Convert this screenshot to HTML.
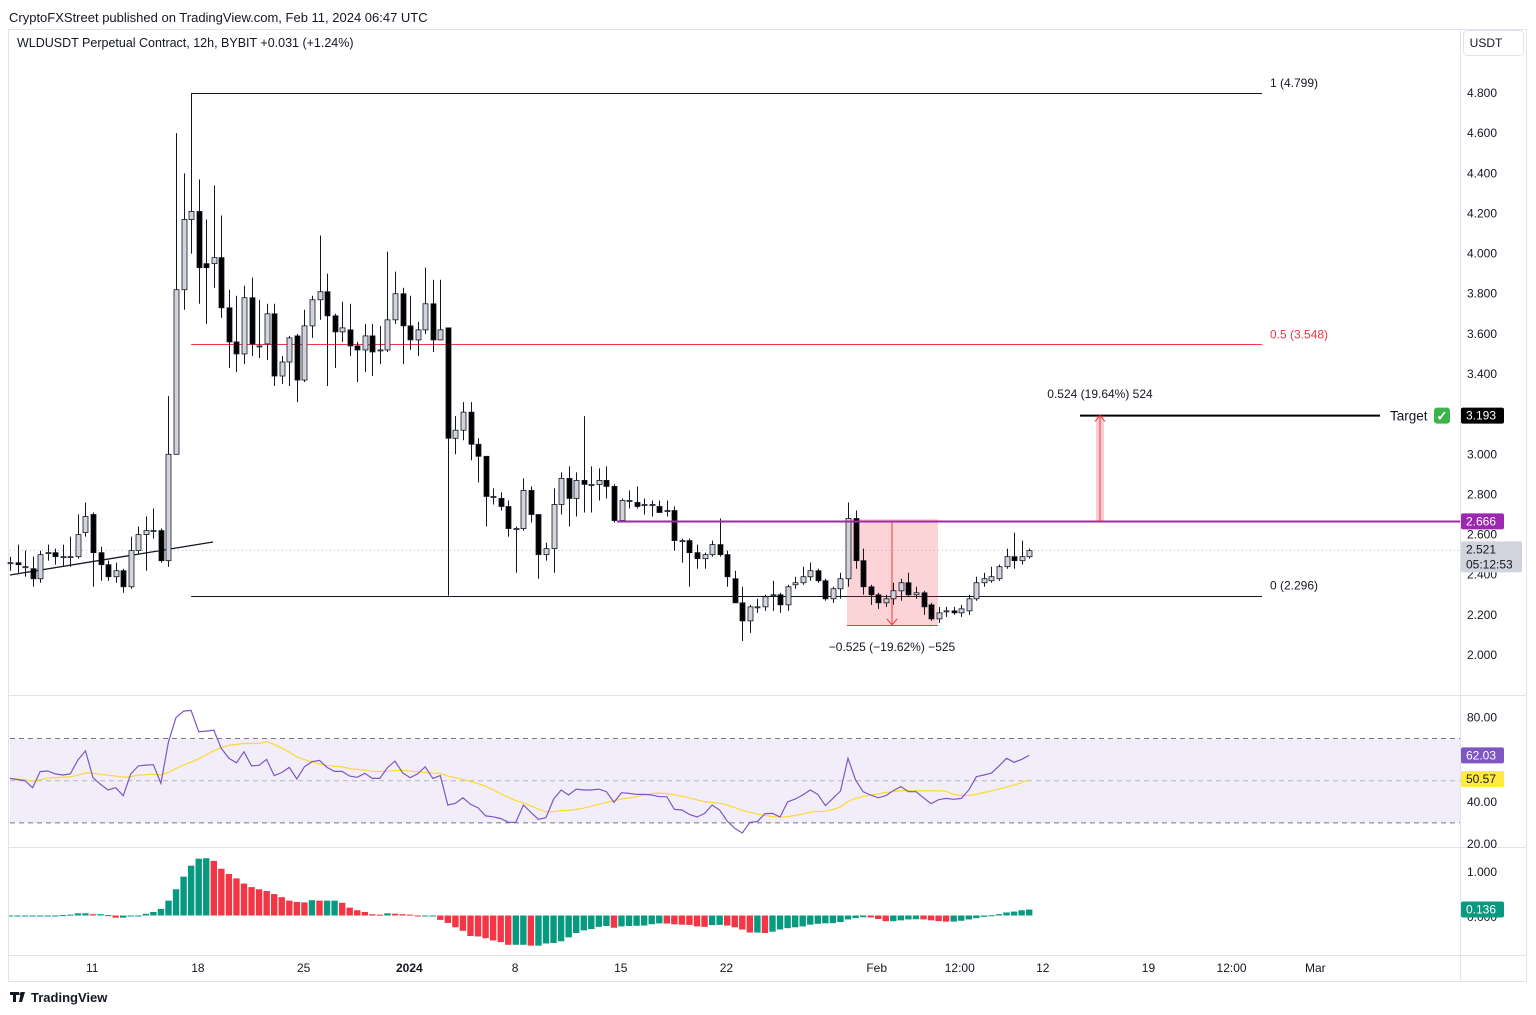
<!DOCTYPE html>
<html><head><meta charset="utf-8"><style>
html,body{margin:0;padding:0;background:#fff;}
svg{display:block;font-family:"Liberation Sans",sans-serif;}
</style></head><body>
<svg id="chart" width="1536" height="1015" viewBox="0 0 1536 1015" xmlns="http://www.w3.org/2000/svg">
<defs><clipPath id="paneClip"><rect x="9" y="30" width="1451" height="925"/></clipPath></defs>
<rect x="0" y="0" width="1536" height="1015" fill="#fff"/>
<text x="9" y="22" font-size="13" fill="#131722">CryptoFXStreet published on TradingView.com, Feb 11, 2024 06:47 UTC</text>
<rect x="8.5" y="29.5" width="1518" height="952" fill="none" stroke="#e0e3eb"/>
<line x1="1460.5" y1="30" x2="1460.5" y2="981" stroke="#e0e3eb"/>
<line x1="9" y1="695.5" x2="1526" y2="695.5" stroke="#e0e3eb"/>
<line x1="9" y1="847.5" x2="1526" y2="847.5" stroke="#e0e3eb"/>
<line x1="9" y1="955.5" x2="1526" y2="955.5" stroke="#e0e3eb"/>
<text x="17" y="47" font-size="12.5" fill="#131722">WLDUSDT Perpetual Contract, 12h, BYBIT  <tspan fill="#131722">+0.031 (+1.24%)</tspan></text>
<rect x="1463.5" y="30.5" width="60" height="25" rx="4" fill="#fff" stroke="#e0e3eb"/>
<text x="1486" y="47" font-size="12" fill="#131722" text-anchor="middle">USDT</text>
<g id="g-axis"></g>
<g id="g-rsi-bg"></g>
<g id="g-draw-back"></g>
<g id="g-candles"></g>
<g id="g-draw-front"></g>
<g id="g-rsi" clip-path="url(#paneClip)"></g>
<g id="g-macd" clip-path="url(#paneClip)"></g>
<g id="g-labels"></g>
<g>
<path d="M10 992h9v3h-3v7h-3v-7h-3z M21 992h4l-3 10h-3z" fill="#131722"/>
<circle cx="21" cy="994" r="1.6" fill="#131722"/>
<text x="31" y="1002" font-size="13" font-weight="bold" fill="#131722">TradingView</text>
</g>
</svg>
<script>
const opens=[2.46,2.46,2.44,2.43,2.38,2.51,2.51,2.49,2.49,2.49,2.61,2.70,2.51,2.45,2.39,2.42,2.34,2.52,2.60,2.62,2.62,2.47,3.00,3.82,4.17,4.21,3.95,3.95,3.98,3.73,3.56,3.50,3.78,3.54,3.55,3.70,3.39,3.46,3.59,3.37,3.64,3.77,3.81,3.69,3.61,3.62,3.54,3.52,3.59,3.52,3.52,3.67,3.80,3.64,3.57,3.62,3.75,3.57,3.63,3.08,3.12,3.21,3.05,2.99,2.79,2.78,2.74,2.63,2.63,2.82,2.70,2.50,2.53,2.75,2.88,2.78,2.87,2.85,2.85,2.87,2.84,2.67,2.77,2.76,2.75,2.75,2.74,2.72,2.72,2.57,2.57,2.51,2.48,2.50,2.55,2.50,2.38,2.26,2.17,2.24,2.24,2.30,2.30,2.25,2.35,2.36,2.39,2.42,2.37,2.28,2.33,2.38,2.68,2.47,2.34,2.30,2.26,2.28,2.32,2.36,2.30,2.31,2.25,2.18,2.22,2.22,2.21,2.22,2.28,2.36,2.37,2.38,2.44,2.49,2.47,2.49];
const highs=[2.49,2.55,2.52,2.49,2.52,2.55,2.53,2.55,2.59,2.70,2.76,2.71,2.54,2.47,2.46,2.43,2.59,2.64,2.69,2.73,2.63,3.29,4.60,4.40,4.799,4.37,4.17,4.34,4.19,3.82,3.79,3.84,3.88,3.77,3.75,3.75,3.49,3.59,3.60,3.72,3.79,4.09,3.90,3.70,3.76,3.75,3.56,3.65,3.65,3.64,4.01,3.91,3.83,3.79,3.66,3.93,3.87,3.87,3.63,3.19,3.26,3.26,3.08,2.99,2.83,2.81,2.77,2.64,2.88,2.84,2.70,2.56,2.83,2.91,2.94,2.91,3.19,2.94,2.93,2.94,2.85,2.78,2.82,2.84,2.78,2.77,2.77,2.77,2.74,2.58,2.58,2.55,2.51,2.57,2.68,2.52,2.42,2.34,2.25,2.28,2.30,2.37,2.31,2.35,2.39,2.44,2.46,2.43,2.38,2.34,2.41,2.76,2.72,2.53,2.35,2.31,2.30,2.36,2.38,2.41,2.34,2.32,2.26,2.24,2.24,2.24,2.25,2.30,2.39,2.41,2.44,2.45,2.53,2.61,2.57,2.53];
const lows=[2.42,2.41,2.39,2.34,2.36,2.47,2.45,2.44,2.44,2.48,2.59,2.34,2.37,2.37,2.36,2.31,2.33,2.50,2.42,2.58,2.46,2.44,3.00,3.72,4.00,3.75,3.65,3.83,3.68,3.43,3.41,3.45,3.49,3.48,3.47,3.34,3.35,3.34,3.26,3.36,3.58,3.67,3.34,3.43,3.56,3.49,3.36,3.41,3.39,3.45,3.51,3.65,3.45,3.52,3.49,3.60,3.51,3.57,2.296,3.00,3.07,2.97,2.86,2.64,2.75,2.72,2.59,2.41,2.62,2.66,2.38,2.47,2.41,2.70,2.64,2.69,2.71,2.71,2.77,2.78,2.66,2.66,2.73,2.73,2.70,2.69,2.71,2.69,2.52,2.46,2.34,2.43,2.43,2.49,2.49,2.34,2.26,2.07,2.11,2.21,2.22,2.22,2.21,2.22,2.33,2.35,2.37,2.36,2.27,2.26,2.28,2.34,2.43,2.30,2.25,2.23,2.24,2.25,2.27,2.29,2.28,2.20,2.17,2.16,2.19,2.20,2.19,2.20,2.27,2.34,2.36,2.37,2.43,2.43,2.45,2.48];
const closes=[2.46,2.45,2.44,2.38,2.50,2.51,2.49,2.49,2.49,2.60,2.69,2.51,2.45,2.39,2.42,2.34,2.52,2.60,2.62,2.62,2.47,3.00,3.82,4.17,4.21,3.93,3.93,3.98,3.73,3.56,3.50,3.78,3.55,3.54,3.70,3.39,3.46,3.58,3.37,3.64,3.77,3.81,3.69,3.61,3.63,3.54,3.52,3.59,3.51,3.52,3.67,3.80,3.64,3.57,3.62,3.75,3.57,3.62,3.08,3.12,3.21,3.05,2.99,2.79,2.79,2.74,2.63,2.63,2.82,2.70,2.50,2.53,2.75,2.88,2.78,2.87,2.85,2.85,2.87,2.84,2.67,2.77,2.77,2.74,2.75,2.75,2.71,2.72,2.57,2.57,2.51,2.48,2.50,2.55,2.50,2.39,2.26,2.17,2.24,2.24,2.29,2.30,2.25,2.34,2.36,2.39,2.42,2.37,2.28,2.33,2.38,2.68,2.47,2.34,2.30,2.26,2.28,2.32,2.36,2.30,2.31,2.24,2.18,2.21,2.22,2.21,2.23,2.28,2.36,2.38,2.39,2.44,2.49,2.47,2.49,2.52];
const rsiValues=[51.1,50.5,50,46.7,54.3,54.6,53.2,52.7,53.2,59.8,64.1,51.4,48.3,45.6,46.7,42.9,53.2,57,57.4,57.6,48.7,68.5,79.9,83,83.3,73.2,73.5,74,65.3,60.6,58.5,63.7,57,57.3,60.1,52.4,53.9,56.3,50.8,56.6,59,59.6,56.3,54.4,54.4,52.2,51.6,53.5,51.1,51.1,56.2,59.3,53.8,51.4,53.2,56.6,51.1,52.4,38.5,39.3,41.9,38.8,37.2,33.3,32.9,32.1,30.3,30.3,38.5,35,31.7,32.5,41.3,45.6,43.2,46,45.6,45.6,46,44.8,39.7,44.3,44,43.5,43.5,43.2,42.4,42.4,36.4,36.1,34,32.8,34.5,38.5,36.1,30.9,27.4,25.2,30.3,30.6,34.4,34.5,32.8,40,41.3,43.2,45.6,43.5,38.2,41.6,45.1,60.6,50.3,44.8,43.2,41.9,42.9,45.3,47.2,44.8,44.8,41.9,39.1,41,41.6,41.2,41.6,45.6,51.9,52.7,53.6,57,60.6,58.7,60.1,62.0];
const macdHist=[-0.01,-0.01,-0.01,-0.01,-0.01,-0.01,-0.01,0.01,0.02,0.05,0.05,0.03,0.03,0.01,-0.05,-0.05,-0.02,0.0,0.04,0.08,0.15,0.34,0.60,0.89,1.14,1.30,1.31,1.25,1.07,0.95,0.85,0.73,0.65,0.60,0.56,0.49,0.42,0.34,0.31,0.30,0.35,0.34,0.34,0.34,0.29,0.18,0.12,0.08,0.03,0.02,0.05,0.04,0.03,0.02,-0.02,-0.02,-0.01,-0.10,-0.17,-0.27,-0.35,-0.47,-0.48,-0.52,-0.57,-0.61,-0.67,-0.67,-0.67,-0.69,-0.69,-0.64,-0.63,-0.59,-0.50,-0.40,-0.34,-0.31,-0.26,-0.24,-0.28,-0.25,-0.24,-0.235,-0.23,-0.20,-0.18,-0.185,-0.20,-0.21,-0.215,-0.25,-0.26,-0.22,-0.215,-0.23,-0.27,-0.32,-0.39,-0.39,-0.40,-0.37,-0.32,-0.29,-0.27,-0.25,-0.21,-0.19,-0.18,-0.175,-0.15,-0.09,-0.06,-0.04,-0.045,-0.08,-0.13,-0.13,-0.11,-0.09,-0.085,-0.09,-0.11,-0.13,-0.14,-0.14,-0.12,-0.09,-0.06,-0.03,0.005,0.03,0.07,0.09,0.12,0.136];
const priceTicks=[2.0,2.2,2.4,2.6,2.8,3.0,3.2,3.4,3.6,3.8,4.0,4.2,4.4,4.6,4.8];
const rsiTicks=[80,40,20];
const timeLabels=["11","18","25","2024","8","15","22","Feb","12:00","12","19","12:00","Mar"];
const timeIdx=[10.9,24.9,38.9,52.9,66.9,80.9,94.9,114.8,125.8,136.8,150.8,161.8,172.9];
const fibLevels=[1,0.5,0];
const fibHigh=4.799, fibLow=2.296;
const resistance=2.666, target=3.193, lastPrice=2.521;

const NS="http://www.w3.org/2000/svg";
const xOf=k=>9.95+7.55*k;
const yP=p=>655-(p-2)*200.7;
const yR=v=>780.7-(v-50)*2.11;
const yM=v=>915.5-v*43.7;
function mk(tag,attrs,parent,text){const e=document.createElementNS(NS,tag);for(const k in attrs)e.setAttribute(k,attrs[k]);if(text!==undefined)e.textContent=text;parent.appendChild(e);return e;}
const gAxis=document.getElementById('g-axis'),gBack=document.getElementById('g-draw-back'),gC=document.getElementById('g-candles'),gF=document.getElementById('g-draw-front'),gR=document.getElementById('g-rsi'),gRb=document.getElementById('g-rsi-bg'),gM=document.getElementById('g-macd'),gL=document.getElementById('g-labels');

priceTicks.forEach(p=>{
  const t=mk('text',{x:1482,y:yP(p)+4,'font-size':12,fill:'#131722','text-anchor':'middle'},gAxis,p.toFixed(3));
  
  
});
rsiTicks.forEach(v=>{
  const t=mk('text',{x:1482,y:yR(v)+4,'font-size':12,fill:'#131722','text-anchor':'middle'},gAxis,v.toFixed(2));
  
  
});
{const t=mk('text',{x:1482,y:yM(1)+4,'font-size':12,fill:'#131722','text-anchor':'middle'},gAxis,'1.000');


const t2=mk('text',{x:1482,y:yM(-0.04)+4,'font-size':12,fill:'#131722','text-anchor':'middle'},gAxis,'0.000');

}
timeLabels.forEach((s,i)=>{
  const t=mk('text',{x:xOf(timeIdx[i]),y:972,'font-size':12,fill:'#131722','text-anchor':'middle','font-weight':s==='2024'?'bold':'normal'},gAxis,s);
  
  
});

const fibX1=xOf(24), fibX2=1262;
fibLevels.forEach(l=>{
  const p=fibLow+(fibHigh-fibLow)*l;
  const col=l===0.5?'#f23645':'#131722';
  const ln=mk('line',{x1:fibX1,y1:Math.round(yP(p))+0.5,x2:fibX2,y2:Math.round(yP(p))+0.5,stroke:col,'stroke-width':1},gBack);
  
  
  const t=mk('text',{x:1270,y:yP(p)-6,'font-size':12,fill:col},gBack,l+' ('+p.toFixed(3)+')');
  
  
});
{const r=mk('rect',{x:847,y:519,width:91,height:106,fill:'rgba(242,54,69,0.22)'},gBack);


const l=mk('line',{x1:892,y1:521,x2:892,y2:625,stroke:'#f23645','stroke-width':1},gBack);


const ah=mk('path',{d:'M887 619 L892 625 L897 619',fill:'none',stroke:'#f23645'},gBack);


const bl=mk('line',{x1:847,y1:625.5,x2:938,y2:625.5,stroke:'#f23645'},gBack);


const t=mk('text',{x:892,y:651,'font-size':12,fill:'#131722','text-anchor':'middle'},gBack,'\u22120.525 (\u221219.62%) \u2212525');

}
{const tl=mk('line',{x1:10,y1:575,x2:213,y2:542,stroke:'#131722','stroke-width':1.3},gBack);

}
{const lp=mk('line',{x1:10,y1:yP(lastPrice),x2:1460,y2:yP(lastPrice),stroke:'#b2b5be','stroke-dasharray':'1 3'},gBack);

}

opens.forEach((o,k)=>{
  const c=closes[k],h=highs[k],l=lows[k],x=Math.round(xOf(k))+0.5;
  const up=c>=o;
  const g=mk('g',{},gC);
  
  
  mk('line',{x1:x,y1:yP(h),x2:x,y2:yP(l),stroke:'#131722','stroke-width':1},g);
  const top=yP(Math.max(o,c)),bot=yP(Math.min(o,c));
  mk('rect',{x:x-2.5,y:top,width:5,height:Math.max(1,bot-top),fill:up?'#d1d4dc':'#000',stroke:'#131722','stroke-width':0.8},g);
});

{const rl=mk('line',{x1:617,y1:Math.round(yP(resistance))+0.5,x2:1460,y2:Math.round(yP(resistance))+0.5,stroke:'#9c27b0','stroke-width':2},gF);


const tg=mk('line',{x1:1080,y1:yP(target),x2:1380,y2:yP(target),stroke:'#000','stroke-width':2},gF);


const tt=mk('text',{x:1390,y:yP(target)+5,'font-size':13.5,fill:'#131722'},gF,'Target');


const ck=mk('rect',{x:1434,y:yP(target)-8,width:16,height:16,rx:3,fill:'#3bb54a'},gF);


mk('text',{x:1442,y:yP(target)+5,'font-size':13,fill:'#fff','text-anchor':'middle','font-weight':'bold'},gF,'\u2713');
const ar=mk('rect',{x:1096,y:yP(target),width:8,height:yP(resistance)-yP(target),fill:'rgba(242,54,69,0.25)'},gF);


mk('line',{x1:1100,y1:yP(resistance),x2:1100,y2:yP(target),stroke:'#f23645'},gF);
mk('path',{d:`M1095 ${yP(target)+6} L1100 ${yP(target)} L1105 ${yP(target)+6}`,fill:'none',stroke:'#f23645'},gF);
const rt=mk('text',{x:1100,y:398,'font-size':12,fill:'#131722','text-anchor':'middle'},gF,'0.524 (19.64%) 524');

}

{const b=mk('rect',{x:10,y:yR(70),width:1450,height:yR(30)-yR(70),fill:'rgba(126,87,194,0.1)'},gRb);


[70,50,30].forEach(v=>{const l=mk('line',{x1:10,y1:yR(v),x2:1460,y2:yR(v),stroke:v===50?'#b2b5be':'#787b86','stroke-dasharray':'5 4'},gRb);

});}
{const pts=rsiValues.map((v,k)=>xOf(k).toFixed(1)+','+yR(v).toFixed(1)).join(' ');
const ma=rsiValues.map((v,k)=>{const s=rsiValues.slice(Math.max(0,k-13),k+1);return s.reduce((a,b)=>a+b,0)/s.length;});
const mpts=ma.map((v,k)=>xOf(k).toFixed(1)+','+yR(v).toFixed(1)).join(' ');
const ml=mk('polyline',{points:mpts,fill:'none',stroke:'#fdd835','stroke-width':1.2},gR);


const rl=mk('polyline',{points:pts,fill:'none',stroke:'#7e57c2','stroke-width':1.2},gR);

}

macdHist.forEach((v,k)=>{
  const prev=k>0?macdHist[k-1]:v;
  const col=v>=prev?'#089981':'#f23645';
  const y0=yM(0),y1=yM(v);
  const r=mk('rect',{x:xOf(k)-3.2,y:Math.min(y0,y1),width:6.4,height:Math.max(1,Math.abs(y1-y0)),fill:col},gM);
  
  
});

function badge(name,y,h,bg,fg,lines,x,w){
  const g=mk('g',{},gL);
  
  
  mk('rect',{x:x||1461,y:y,width:w||43,height:h,rx:2,fill:bg},g);
  lines.forEach((s,i)=>mk('text',{x:(x||1461)+5,y:y+12+i*15,'font-size':12,fill:fg},g,s));
}
badge('target-price-badge',yP(target)-8,16,'#000','#fff',[target.toFixed(3)]);
badge('resistance-price-badge',yP(resistance)-8,16,'#9c27b0','#fff',[resistance.toFixed(3)]);
badge('last-price-badge',yP(lastPrice)-9,31,'#d1d4dc','#131722',[lastPrice.toFixed(3),'05:12:53'],1461,61);
badge('rsi-value-badge',yR(rsiValues[rsiValues.length-1])-8,16,'#7e57c2','#fff',['62.03']);
badge('rsi-ma-badge',771,16,'#ffeb3b','#131722',['50.57']);
badge('macd-value-badge',yM(macdHist[macdHist.length-1])-8,16,'#089981','#fff',['0.136']);
</script>
</body></html>
